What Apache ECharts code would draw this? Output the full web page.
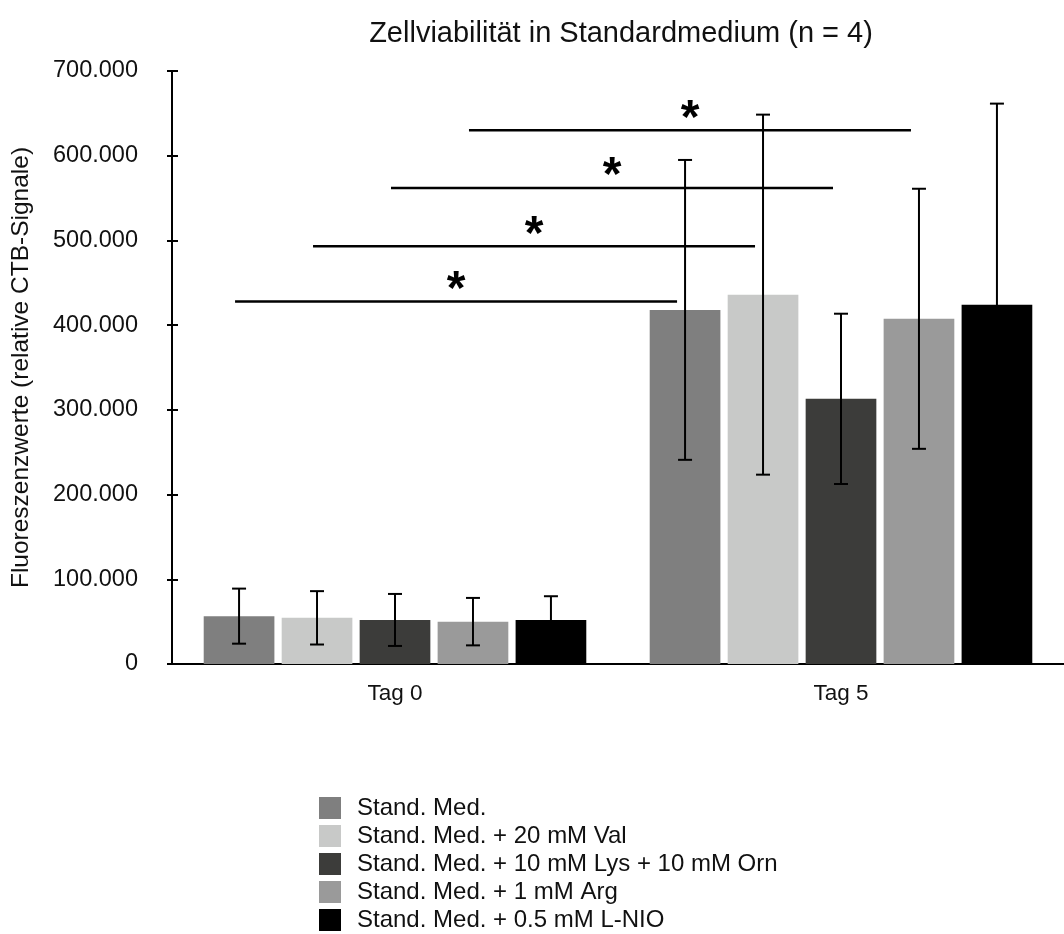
<!DOCTYPE html>
<html>
<head>
<meta charset="utf-8">
<script src="https://cdn.jsdelivr.net/npm/echarts@6/dist/echarts.min.js"></script>
<style>
  html, body { margin: 0; padding: 0; background: #ffffff; }
  #chart { width: 1064px; height: 934px; }
</style>
</head>
<body>
<div id="chart"></div>
<script>
// Zellviabilität (CTB-Fluoreszenz), Mittelwert ± SD, n = 4
const categories = ['Tag 0', 'Tag 5'];
const seriesNames = [
  'Stand. Med.',
  'Stand. Med. + 20 mM Val',
  'Stand. Med. + 10 mM Lys + 10 mM Orn',
  'Stand. Med. + 1 mM Arg',
  'Stand. Med. + 0.5 mM L-NIO'
];
const seriesColors = ['#7f7f7f', '#c8c9c8', '#3c3c3a', '#9a9a9a', '#000000'];

// Mittelwerte je Medium: [Tag 0, Tag 5]
const meanStandMed = [56500, 418000];
const meanVal      = [54500, 436000];
const meanLysOrn   = [52000, 313000];
const meanArg      = [50000, 407500];
const meanLNIO     = [52000, 424000];

// Standardabweichungen je Medium: [Tag 0, Tag 5]
const sdStandMed = [32500, 177000];
const sdVal      = [31500, 212500];
const sdLysOrn   = [30700, 100500];
const sdArg      = [28000, 153500];
const sdLNIO     = [28000, 237500];

// Signifikanz Tag 0 vs. Tag 5 (Index des Mediums, Höhe der Klammer)
const sigMedium = [0, 1, 2, 3];
const sigHeight = [428000, 493000, 562000, 630000];

// y-Achse
const yTickValues = [0, 100000, 200000, 300000, 400000, 500000, 600000, 700000];
const yTickLabels = ['0', '100.000', '200.000', '300.000', '400.000', '500.000', '600.000', '700.000'];

const means = [meanStandMed, meanVal, meanLysOrn, meanArg, meanLNIO];
const sds = [sdStandMed, sdVal, sdLysOrn, sdArg, sdLNIO];

// Balkenbreite und Abstand als Anteil der Kategoriebreite
const BAR_FRAC = 0.1585;
const GAP_FRAC = 0.103;
const PITCH_FRAC = BAR_FRAC * (1 + GAP_FRAC);
const N = seriesNames.length;

const FONT = '"Liberation Sans", Arial, Helvetica, sans-serif';
const TEXT = '#111111';

function barCenterX(api, catIdx, seriesIdx, y) {
  const c = api.coord([catIdx, y]);
  const band = api.size([1, 0])[0];
  return [c[0] + (seriesIdx - (N - 1) / 2) * PITCH_FRAC * band, c[1]];
}

const barSeries = seriesNames.map((name, i) => ({
  name: name,
  type: 'bar',
  data: means[i],
  barWidth: (BAR_FRAC * 100) + '%',
  barGap: (GAP_FRAC * 100) + '%',
  itemStyle: { color: seriesColors[i] },
  emphasis: { disabled: true },
  z: 2
}));

const errorSeries = seriesNames.map((name, i) => ({
  type: 'custom',
  name: name + ' SD',
  data: categories.map((c, k) => [k, means[i][k] - sds[i][k], means[i][k] + sds[i][k]]),
  encode: { x: 0, y: [1, 2] },
  z: 5,
  silent: true,
  renderItem: function (params, api) {
    const k = api.value(0);
    const lo = barCenterX(api, k, i, api.value(1));
    const hi = barCenterX(api, k, i, api.value(2));
    const cap = 7;
    const st = { stroke: '#000000', lineWidth: 2 };
    return {
      type: 'group',
      children: [
        { type: 'line', shape: { x1: lo[0], y1: lo[1], x2: hi[0], y2: hi[1] }, style: st },
        { type: 'line', shape: { x1: hi[0] - cap, y1: hi[1], x2: hi[0] + cap, y2: hi[1] }, style: st },
        { type: 'line', shape: { x1: lo[0] - cap, y1: lo[1], x2: lo[0] + cap, y2: lo[1] }, style: st }
      ]
    };
  }
}));

const sigSeries = {
  type: 'custom',
  name: 'Signifikanz',
  data: sigMedium.map((m, j) => [0, sigHeight[j], m]),
  encode: { x: 0, y: 1 },
  z: 6,
  silent: true,
  renderItem: function (params, api) {
    const h = api.value(1);
    const m = api.value(2);
    const a = barCenterX(api, 0, m, h);
    const b = barCenterX(api, 1, m, h);
    const x1 = a[0] - 4, x2 = b[0] - 8;
    return {
      type: 'group',
      children: [
        { type: 'line', shape: { x1: x1, y1: a[1], x2: x2, y2: b[1] },
          style: { stroke: '#000000', lineWidth: 2.5 } },
        { type: 'text', x: (x1 + x2) / 2, y: a[1] + 13,
          style: { text: '*', fill: '#000000', font: 'bold 48px ' + FONT,
                   align: 'center', verticalAlign: 'bottom' } }
      ]
    };
  }
};

const chart = echarts.init(document.getElementById('chart'), null, { renderer: 'canvas' });
chart.setOption({
  animation: false,
  backgroundColor: '#ffffff',
  title: {
    text: 'Zellviabilität in Standardmedium (n = 4)',
    left: 621,
    top: 19,
    padding: 0,
    textAlign: 'center',
    textStyle: { fontFamily: FONT, fontSize: 29, fontWeight: 'normal', color: TEXT }
  },
  legend: {
    data: seriesNames,
    orient: 'vertical',
    left: 319,
    top: 796,
    padding: 0,
    itemWidth: 22,
    itemHeight: 22,
    itemGap: 4,
    icon: 'rect',
    selectedMode: false,
    textStyle: { fontFamily: FONT, fontSize: 24, color: TEXT, lineHeight: 22, padding: [0, 0, 0, 11] }
  },
  grid: { left: 172, right: 0, top: 71, bottom: 270, containLabel: false },
  xAxis: {
    type: 'category',
    data: categories,
    axisLine: { lineStyle: { color: '#000000', width: 2 } },
    axisTick: { show: false },
    axisLabel: { fontFamily: FONT, fontSize: 22.5, color: TEXT, margin: 18 }
  },
  yAxis: [
    {
      type: 'value',
      min: 0,
      max: 700000,
      interval: 100000,
      name: 'Fluoreszenzwerte (relative CTB-Signale)',
      nameLocation: 'middle',
      nameGap: 138,
      nameTextStyle: { fontFamily: FONT, fontSize: 24.5, color: TEXT },
      axisLine: { show: true, lineStyle: { color: '#000000', width: 2 } },
      axisTick: { show: true, inside: false, length: 5, lineStyle: { color: '#000000', width: 2 } },
      splitLine: { show: false },
      axisLabel: {
        fontFamily: FONT, fontSize: 23.5, color: TEXT, margin: 34,
        formatter: v => yTickLabels[yTickValues.indexOf(v)]
      }
    },
    {
      type: 'value',
      min: 0,
      max: 700000,
      interval: 100000,
      position: 'left',
      axisLine: { show: false },
      axisTick: { show: true, inside: true, length: 6, lineStyle: { color: '#000000', width: 2 } },
      axisLabel: { show: false },
      splitLine: { show: false }
    }
  ],
  series: [...barSeries, ...errorSeries, sigSeries]
});
</script>
</body>
</html>
